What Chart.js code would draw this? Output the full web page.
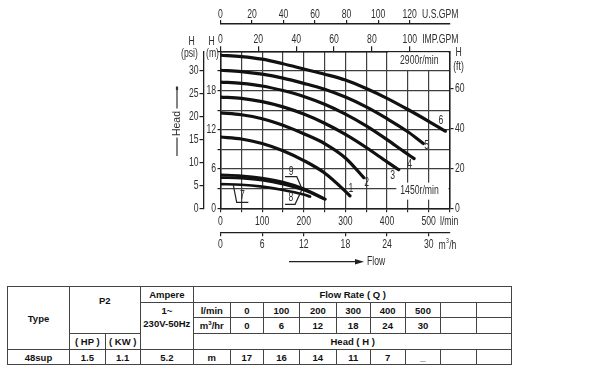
<!DOCTYPE html>
<html><head><meta charset="utf-8">
<script src="https://cdn.jsdelivr.net/npm/chart.js@4.4.1/dist/chart.umd.min.js"></script>
<style>
html,body{margin:0;padding:0;background:#fff;width:607px;height:373px;overflow:hidden;}
#wrap{position:absolute;left:0;top:0;width:607px;height:280px;}
#tbl{position:absolute;left:7px;top:286px;border-collapse:collapse;table-layout:fixed;width:504.4px;
 font-family:"Liberation Sans",Arial,sans-serif;font-weight:bold;font-size:9.5px;color:#111;}
#tbl td{border:1px solid #444;text-align:center;padding:0;line-height:11px;white-space:nowrap;overflow:hidden;}
#tbl td.p2{vertical-align:top;padding-top:8px;}
#tbl td.amp{vertical-align:top;padding-top:2px;line-height:12.7px;}
#tbl sup{font-size:6px;line-height:0;vertical-align:4px;}
</style></head><body>
<div id="wrap"><canvas id="c" width="607" height="280"></canvas></div>
<table id="tbl"></table>
<script>
// ---------------- data ----------------
// 2900 r/min curves (flow in l/min, head in m)
const flow1 = [0, 50, 100, 150, 200, 250, 300, 311];
const head1 = [10.9, 10.6, 9.9, 8.8, 7.3, 5.4, 2.6, 1.9];
const flow2 = [0, 50, 100, 150, 200, 250, 300, 344];
const head2 = [14.6, 14.3, 13.7, 12.7, 11.4, 9.9, 7.7, 4.7];
const flow3 = [0, 50, 100, 150, 200, 250, 300, 350, 400, 428];
const head3 = [17.0, 16.8, 16.3, 15.5, 14.4, 13.0, 11.3, 9.3, 7.1, 5.9];
const flow4 = [0, 50, 100, 150, 200, 250, 300, 350, 400, 440, 465];
const head4 = [19.3, 19.1, 18.7, 18.0, 17.1, 15.9, 14.4, 12.6, 10.5, 8.7, 7.6];
const flow5 = [0, 50, 100, 150, 200, 250, 300, 350, 400, 450, 487];
const head5 = [21.1, 20.9, 20.5, 19.9, 19.1, 18.2, 17.0, 15.5, 13.7, 11.7, 9.9];
const flow6 = [0, 50, 100, 150, 200, 250, 300, 350, 400, 450, 500, 540];
const head6 = [23.4, 23.2, 22.8, 22.1, 21.3, 20.5, 19.6, 18.3, 16.8, 15.1, 13.3, 11.8];
// 1450 r/min curves
const flow7 = [0, 50, 100, 150, 200, 215];
const head7 = [3.7, 3.6, 3.3, 2.8, 2.1, 1.8];
const flow8 = [0, 50, 100, 150, 200, 250];
const head8 = [4.7, 4.6, 4.3, 3.7, 2.8, 1.4];
const flow9 = [0, 50, 100, 150, 200, 252];
const head9 = [5.1, 4.95, 4.6, 4.0, 3.0, 1.4];
const curveNames = ['1','2','3','4','5','6','7','8','9'];

// axis ticks
const flowTicksLmin = [0, 100, 200, 300, 400, 500];
const flowTicksM3h = [0, 6, 12, 18, 24, 30];
const flowTicksUsGpm = [0, 20, 40, 60, 80, 100, 120];
const flowTicksImpGpm = [0, 20, 40, 60, 80, 100];
const headTicksM = [0, 6, 12, 18];
const headTicksPsi = [0, 5, 10, 15, 20, 25, 30];
const headTicksFt = [0, 20, 40, 60];
const speedHigh = '2900r/min';
const speedLow = '1450r/min';

// table
const pumpType = '48sup';
const powerHP = '1.5';
const powerKW = '1.1';
const ampere = '5.2';
const supplyLines = ['1~', '230V-50Hz'];
const tableFlowLmin = ['0', '100', '200', '300', '400', '500', '', ''];
const tableFlowM3h = ['0', '6', '12', '18', '24', '30', '', ''];
const tableHeadM = ['17', '16', '14', '11', '7', '_', '', ''];

// ---------------- unit conversions ----------------
const X_MAX = 550, Y_MAX = 24;
const LPM_PER_USGPM = 3.785412, LPM_PER_IMPGPM = 4.54609, LPM_PER_M3H = 1000/60;
const M_PER_PSI = 0.70307, M_PER_FT = 0.3048;

// ---------------- styling ----------------
const FONT = '12px "Liberation Sans",Arial,sans-serif';
const SQ = 0.72;           // horizontal squeeze for the condensed lettering
const TXT = '#2e2e2e', GRID = '#3e3e3e', FRAME = '#1e1e1e';
const fixW = w => s => { s.width = w; };
const fixH = h => s => { s.height = h; };
const setTicks = arr => s => { s.ticks = arr.map(v => ({value: v})); };

const curves = [
  [flow1, head1], [flow2, head2], [flow3, head3], [flow4, head4], [flow5, head5],
  [flow6, head6], [flow7, head7], [flow8, head8], [flow9, head9]
];

const datasets = curves.map((c, i) => ({
  label: curveNames[i],
  data: c[0].map((f, k) => ({x: f, y: c[1][k]})),
  borderColor: '#111',
  borderWidth: i >= 6 ? 2.7 : 3.2,
  pointRadius: 0,
  fill: false,
  tension: 0.4,
  cubicInterpolationMode: 'monotone',
  borderCapStyle: 'round',
  xAxisID: 'x', yAxisID: 'y'
}));

// label offsets (pixels) from each curve's last point
const endLabelOffset = {'1':[1,-7], '2':[3,5.5], '3':[-6,6], '4':[-4.5,6], '5':[3.5,2.5], '6':[-4.5,-10.5]};
// leader labels for the low-speed curves (data coordinates)
const leaderLabels = [
  {name:'7', text:[52.9,1.91], path:[[30.8,3.56],[38.9,0.92],[66.8,0.92]]},
  {name:'9', text:[169.5,5.63], path:[[155,4.83],[183.2,4.83],[195.2,3.06]]},
  {name:'8', text:[169,1.6], path:[[155,0.61],[179.1,0.61],[195.2,2.8]]}
];

function nText(ctx, text, x, y, align, font) {
  ctx.save();
  ctx.font = font || FONT;
  ctx.translate(x, y);
  ctx.scale(SQ, 1);
  ctx.textAlign = align || 'center';
  ctx.textBaseline = 'middle';
  ctx.fillText(text, 0, 0);
  ctx.restore();
}
function nWidth(ctx, text, font) {
  ctx.save(); ctx.font = font || FONT; const w = ctx.measureText(text).width * SQ; ctx.restore(); return w;
}

const deco = {
  id: 'deco',
  beforeDatasetsDraw(chart) {
    const {ctx, chartArea: ca} = chart;
    const x = chart.scales.x, y = chart.scales.y;
    ctx.save();
    // 2900 r/min box (400-550 l/min, 21-24 m)
    const bx0 = x.getPixelForValue(400) + 1, bx1 = x.getPixelForValue(X_MAX) - 1;
    const by0 = y.getPixelForValue(Y_MAX) + 1, by1 = y.getPixelForValue(21) - 1;
    ctx.fillStyle = '#fff';
    ctx.fillRect(bx0, by0, bx1 - bx0, by1 - by0);
    ctx.fillStyle = TXT;
    nText(ctx, speedHigh, (bx0 + bx1) / 2 + 1, (by0 + by1) / 2);
    // 1450 r/min label
    const cx = x.getPixelForValue(478), cy = y.getPixelForValue(2.7);
    const w = nWidth(ctx, speedLow);
    ctx.fillStyle = '#fff';
    ctx.fillRect(cx - w/2 - 4, cy - 8, ca.right - 1 - (cx - w/2 - 4), 17);
    ctx.fillStyle = TXT;
    nText(ctx, speedLow, cx, cy);
    ctx.restore();
  },
  afterDraw(chart) {
    const {ctx} = chart;
    const S = chart.scales, x = S.x, y = S.y;
    ctx.save();
    ctx.fillStyle = TXT; ctx.strokeStyle = '#222';
    // tick labels
    x.ticks.forEach(t => { if (flowTicksLmin.includes(t.value)) nText(ctx, String(t.value), x.getPixelForValue(t.value), x.top + 13.5); });
    S.xm3.ticks.forEach(t => nText(ctx, String(t.value), S.xm3.getPixelForValue(t.value), S.xm3.top + 12.7));
    S.ximp.ticks.forEach(t => nText(ctx, String(t.value), S.ximp.getPixelForValue(t.value), S.ximp.bottom - 11.3));
    S.xus.ticks.forEach(t => nText(ctx, String(t.value), S.xus.getPixelForValue(t.value), S.xus.bottom - 9.3));
    y.ticks.forEach(t => { if (headTicksM.includes(t.value)) nText(ctx, String(t.value), y.right - 4.5, y.getPixelForValue(t.value), 'right'); });
    S.ypsi.ticks.forEach(t => nText(ctx, String(t.value), S.ypsi.right - 5, S.ypsi.getPixelForValue(t.value), 'right'));
    S.yft.ticks.forEach(t => nText(ctx, String(t.value), S.yft.left + 5.5, S.yft.getPixelForValue(t.value), 'left'));
    // end labels 1..6
    for (let i = 0; i < 6; i++) {
      const f = curves[i][0], h = curves[i][1];
      const px = x.getPixelForValue(f[f.length-1]), py = y.getPixelForValue(h[h.length-1]);
      const o = endLabelOffset[curveNames[i]];
      nText(ctx, curveNames[i], px + o[0], py + o[1]);
    }
    // leader labels 7..9
    ctx.lineWidth = 1.2;
    leaderLabels.forEach(l => {
      nText(ctx, l.name, x.getPixelForValue(l.text[0]), y.getPixelForValue(l.text[1]));
      ctx.beginPath();
      l.path.forEach((p, k) => {
        const px = x.getPixelForValue(p[0]), py = y.getPixelForValue(p[1]);
        if (k === 0) ctx.moveTo(px, py); else ctx.lineTo(px, py);
      });
      ctx.stroke();
    });
    // axis titles
    nText(ctx, 'H', 191.5, 42);
    nText(ctx, '(psi)', 189.5, 54);
    nText(ctx, 'H', 211.5, 42);
    nText(ctx, '(m)', 212.5, 54);
    nText(ctx, 'H', 458.5, 52.5);
    nText(ctx, '(ft)', 458.5, 67);
    nText(ctx, 'U.S.GPM', 458.5, 14.7, 'right');
    nText(ctx, 'IMP.GPM', 458.5, 40, 'right');
    nText(ctx, 'l/min', 440, 222, 'left');
    // m3/h
    nText(ctx, 'm', 438.5, 245.5, 'left');
    const mw = nWidth(ctx, 'm');
    nText(ctx, '3', 438.5 + mw + 0.3, 241.5, 'left', '7px "Liberation Sans",Arial,sans-serif');
    nText(ctx, '/h', 438.5 + mw + 3.5, 245.5, 'left');
    // Flow arrow
    ctx.lineWidth = 1.3;
    ctx.beginPath(); ctx.moveTo(289, 261.7); ctx.lineTo(357, 261.7); ctx.stroke();
    ctx.beginPath(); ctx.moveTo(364, 261.7); ctx.lineTo(355, 259); ctx.lineTo(355, 264.4); ctx.closePath();
    ctx.fillStyle = '#222'; ctx.fill();
    ctx.fillStyle = TXT;
    nText(ctx, 'Flow', 367, 262, 'left');
    // Head title with bars
    ctx.save();
    ctx.translate(177, 123.5); ctx.rotate(-Math.PI / 2);
    ctx.font = '10.5px "Liberation Sans",Arial,sans-serif';
    ctx.textAlign = 'center'; ctx.textBaseline = 'middle';
    ctx.fillText('Head', 0, 0);
    ctx.restore();
    ctx.lineWidth = 1.2; ctx.strokeStyle = '#333';
    ctx.beginPath(); ctx.moveTo(177, 87); ctx.lineTo(177, 108.5); ctx.moveTo(177, 137.5); ctx.lineTo(177, 156); ctx.stroke();
    ctx.lineWidth = 2.2;
    ctx.beginPath(); ctx.moveTo(177, 86.5); ctx.lineTo(177, 90); ctx.stroke();
    ctx.restore();
  }
};

const hiddenTicks = {display: false};
new Chart(document.getElementById('c'), {
  type: 'line',
  data: {datasets},
  options: {
    responsive: false, animation: false, devicePixelRatio: 1,
    layout: {padding: 0},
    plugins: {legend: {display: false}, tooltip: {enabled: false}},
    scales: {
      x: {
        type: 'linear', position: 'bottom', weight: 0, min: 0, max: X_MAX,
        ticks: {stepSize: 50, autoSkip: false, display: false},
        grid: {color: GRID, lineWidth: 1.2, tickLength: 4, tickColor: FRAME, tickWidth: 1.1},
        border: {color: FRAME, width: 1.5},
        afterFit: fixH(24)
      },
      xm3: {
        type: 'linear', position: 'bottom', weight: 1, min: 0, max: X_MAX / LPM_PER_M3H,
        afterBuildTicks: setTicks(flowTicksM3h), ticks: hiddenTicks,
        grid: {drawOnChartArea: false, tickLength: 4, color: FRAME, lineWidth: 1.2},
        border: {color: FRAME, width: 1.3},
        afterFit: fixH(280 - 232.3)
      },
      ximp: {
        type: 'linear', position: 'top', weight: 0, min: 0, max: X_MAX / LPM_PER_IMPGPM,
        afterBuildTicks: setTicks(flowTicksImpGpm), ticks: hiddenTicks,
        grid: {drawOnChartArea: false, tickLength: 5, color: FRAME, lineWidth: 1.2},
        border: {color: FRAME, width: 1.5},
        afterFit: fixH(27.3)
      },
      xus: {
        type: 'linear', position: 'top', weight: 1, min: 0, max: X_MAX / LPM_PER_USGPM,
        afterBuildTicks: setTicks(flowTicksUsGpm), ticks: hiddenTicks,
        grid: {drawOnChartArea: false, tickLength: 4, color: FRAME, lineWidth: 1.2},
        border: {color: FRAME, width: 1.6},
        afterFit: fixH(24)
      },
      y: {
        type: 'linear', position: 'left', weight: 0, min: 0, max: Y_MAX,
        ticks: {stepSize: 3, autoSkip: false, display: false},
        grid: {color: GRID, lineWidth: 1.2, tickLength: 3, tickColor: FRAME},
        border: {color: FRAME, width: 1.5},
        afterFit: fixW(17)
      },
      ypsi: {
        type: 'linear', position: 'left', weight: 1, min: 0, max: Y_MAX / M_PER_PSI,
        afterBuildTicks: setTicks(headTicksPsi), ticks: hiddenTicks,
        grid: {drawOnChartArea: false, tickLength: 4, color: FRAME, lineWidth: 1.2},
        border: {color: FRAME, width: 1.3},
        afterFit: fixW(203.5)
      },
      yft: {
        type: 'linear', position: 'right', weight: 0, min: 0, max: Y_MAX / M_PER_FT,
        afterBuildTicks: setTicks(headTicksFt), ticks: hiddenTicks,
        grid: {drawOnChartArea: false, tickLength: 4, color: FRAME, lineWidth: 1.2},
        border: {color: FRAME, width: 1.5},
        afterFit: fixW(607 - 449.5)
      }
    }
  },
  plugins: [deco]
});

// ---------------- table ----------------
const colW = [62, 35.7, 35, 53.3, 36.7, 33.3, 36, 36.7, 34, 35, 35.7, 36, 35];
const cells = arr => arr.map(v => `<td>${v}</td>`).join('');
let html = '<colgroup>' + colW.map(w => `<col style="width:${w}px">`).join('') + '</colgroup>';
html += `<tr style="height:16px"><td rowspan="4">Type</td><td colspan="2" rowspan="3" class="p2">P2</td><td>Ampere</td><td colspan="9">Flow Rate ( Q )</td></tr>`;
html += `<tr style="height:15px"><td rowspan="3" class="amp">${supplyLines.join('<br>')}</td><td>l/min</td>${cells(tableFlowLmin)}</tr>`;
html += `<tr style="height:16px"><td>m<sup>3</sup>/hr</td>${cells(tableFlowM3h)}</tr>`;
html += `<tr style="height:16px"><td>( HP )</td><td>( KW )</td><td colspan="9">Head ( H )</td></tr>`;
html += `<tr style="height:15px"><td>${pumpType}</td><td>${powerHP}</td><td>${powerKW}</td><td>${ampere}</td><td>m</td>${cells(tableHeadM)}</tr>`;
document.getElementById('tbl').innerHTML = html;
</script>
</body></html>
